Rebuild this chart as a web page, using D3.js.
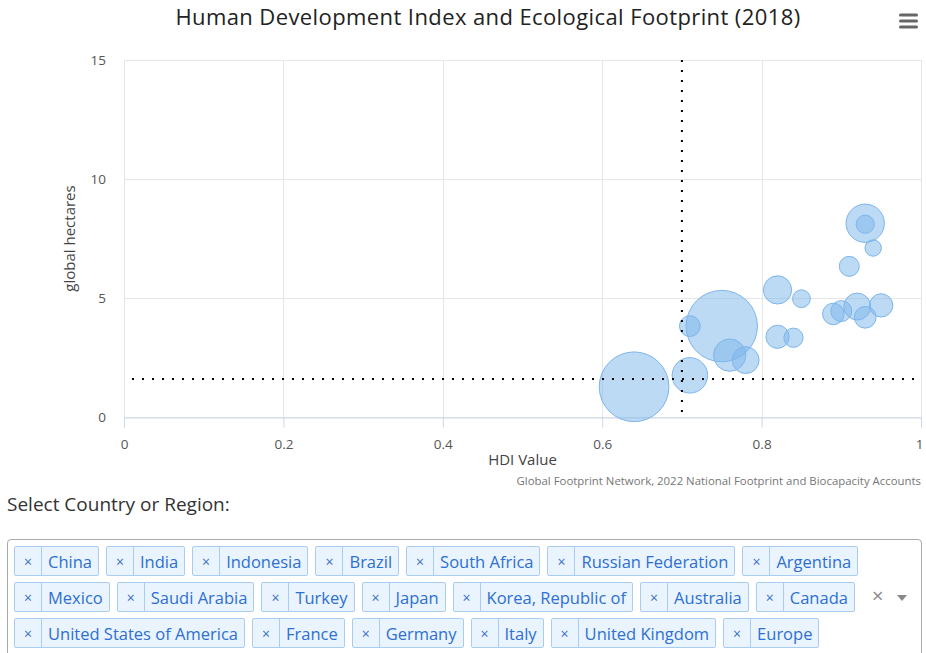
<!DOCTYPE html>
<html><head><meta charset="utf-8">
<script src="https://cdn.jsdelivr.net/npm/d3@7"></script>
<style>
body{margin:0;background:#fff;width:926px;height:653px;overflow:hidden;position:relative;font-family:"Open Sans",sans-serif;}
#chart{position:absolute;left:0;top:0;}
#lbl{position:absolute;left:7px;top:491px;font-size:19px;color:#333;line-height:26px;}
#box{position:absolute;left:7px;top:539px;width:915px;height:118px;border:1px solid #aaa;border-radius:4px;box-sizing:border-box;}
#tags{position:absolute;left:6px;top:6px;width:852px;display:flex;flex-wrap:wrap;gap:6px 7px;}
.tag{display:flex;height:30px;box-sizing:border-box;border:1px solid #a9cdf2;background:#eaf4fe;border-radius:2px;color:#2d6fd2;font-size:16.5px;align-items:stretch;}
.tag .x{width:26px;border-right:1px solid #a9cdf2;display:flex;align-items:center;justify-content:center;font-size:14px;color:#3a6fc4;}
.tag .t{padding:0 6px;display:flex;align-items:center;}
#clr{position:absolute;left:864px;top:43px;font-size:20px;color:#888;line-height:26px;}
#arr{position:absolute;left:889px;top:55px;width:0;height:0;border-left:5px solid transparent;border-right:5px solid transparent;border-top:6px solid #888;}
</style></head>
<body>
<svg id="chart" width="926" height="490"></svg>
<div id="lbl">Select Country or Region:</div>
<div id="box"><div id="tags"></div><span id="clr">×</span><span id="arr"></span></div>
<script>
const countries = ["China","India","Indonesia","Brazil","South Africa","Russian Federation","Argentina","Mexico","Saudi Arabia","Turkey","Japan","Korea, Republic of","Australia","Canada","United States of America","France","Germany","Italy","United Kingdom","Europe"];
const hdi       = [0.75,0.64,0.71,0.76,0.71,0.82,0.84,0.78,0.85,0.82,0.92,0.91,0.94,0.93,0.93,0.89,0.95,0.90,0.93,null];
const footprint = [3.82,1.27,1.75,2.60,3.82,5.34,3.33,2.39,4.97,3.37,4.64,6.33,7.10,8.10,8.14,4.33,4.69,4.45,4.19,null];
const population= [1428,1353,268,210,58,145,45,126,34,82,127,51,25,37,327,65,83,60,67,null];
const xTicks = [0,0.2,0.4,0.6,0.8,1];
const yTicks = [0,5,10,15];
const hdiThreshold = 0.7;
const worldBiocapacity = 1.6;
const title = "Human Development Index and Ecological Footprint (2018)";
const xTitle = "HDI Value";
const yTitle = "global hectares";
const credits = "Global Footprint Network, 2022 National Footprint and Biocapacity Accounts";

const L=124,R=921,T=60,B=417;
const x = d3.scaleLinear().domain([0,1]).range([L,R]);
const y = d3.scaleLinear().domain([0,15]).range([B,T]);
const zMax = d3.max(population);
const r = d3.scaleSqrt().domain([0,zMax]).range([4,35.7]);
const svg = d3.select("#chart");
const font = '"Open Sans",sans-serif';

// gridlines
svg.append("g").selectAll("line").data(yTicks).join("line")
  .attr("x1",L).attr("x2",R).attr("y1",d=>y(d)+0.5).attr("y2",d=>y(d)+0.5)
  .attr("stroke","#e6e6e6").attr("stroke-width",1);
svg.append("g").selectAll("line").data(xTicks).join("line")
  .attr("x1",d=>Math.round(x(d))+0.5).attr("x2",d=>Math.round(x(d))+0.5).attr("y1",T).attr("y2",B)
  .attr("stroke","#e6e6e6").attr("stroke-width",1);

// x axis
const xa = svg.append("g").attr("transform",`translate(0,${B+0.5})`)
  .call(d3.axisBottom(x).tickValues(xTicks).tickSize(10).tickPadding(12).tickFormat(d=>d3.format("")(d)));
xa.select(".domain").attr("stroke","#ccd6eb");
xa.selectAll(".tick line").attr("stroke","#ccd6eb");
xa.selectAll(".tick text").attr("font-family",font).attr("font-size",13.5).attr("fill","#555")
  .attr("text-anchor",d=>d===1?"end":"middle").attr("dx",d=>d===1?"2":"0");

// y axis
const ya = svg.append("g").attr("transform",`translate(${L},0)`)
  .call(d3.axisLeft(y).tickValues(yTicks).tickSize(0).tickPadding(18));
ya.select(".domain").remove();
ya.selectAll(".tick text").attr("font-family",font).attr("font-size",13.5).attr("fill","#555");

// bubbles
const pts = countries.map((c,i)=>({c,x:hdi[i],y:footprint[i],z:population[i]})).filter(d=>d.x!=null);
svg.append("g").selectAll("circle").data(pts).join("circle")
  .attr("cx",d=>x(d.x)).attr("cy",d=>y(d.y)).attr("r",d=>r(d.z))
  .attr("fill","rgba(124,181,236,0.5)").attr("stroke","#7cb5ec").attr("stroke-width",1);

// plot lines
svg.append("line").attr("x1",x(hdiThreshold)).attr("x2",x(hdiThreshold)).attr("y1",T).attr("y2",B)
  .attr("stroke","#000").attr("stroke-width",2).attr("stroke-dasharray","2,8");
svg.append("line").attr("x1",L).attr("x2",R).attr("y1",y(worldBiocapacity)).attr("y2",y(worldBiocapacity))
  .attr("stroke","#000").attr("stroke-width",2).attr("stroke-dasharray","2,8").attr("stroke-dashoffset",-8);

// texts
svg.append("text").attr("x",488).attr("y",25).attr("text-anchor","middle")
  .attr("font-family",font).attr("font-size",22).attr("letter-spacing",0.4).attr("fill","#222").text(title);
svg.append("text").attr("x",(L+R)/2).attr("y",465).attr("text-anchor","middle")
  .attr("font-family",font).attr("font-size",15).attr("fill","#444").text(xTitle);
svg.append("text").attr("transform",`translate(75,${(T+B)/2}) rotate(-90)`).attr("text-anchor","middle")
  .attr("font-family",font).attr("font-size",15).attr("fill","#444").text(yTitle);
svg.append("text").attr("x",921).attr("y",485).attr("text-anchor","end")
  .attr("font-family",font).attr("font-size",11.4).attr("fill","#777").text(credits);

// menu icon
svg.append("g").selectAll("rect").data([0,1,2]).join("rect")
  .attr("x",899).attr("y",d=>13.5+d*6).attr("width",19).attr("height",3).attr("rx",1.5)
  .attr("fill","#666");

// tags
const tags = d3.select("#tags").selectAll("div").data(countries).join("div").attr("class","tag");
tags.append("span").attr("class","x").text("×");
tags.append("span").attr("class","t").text(d=>d);
</script>
</body></html>
